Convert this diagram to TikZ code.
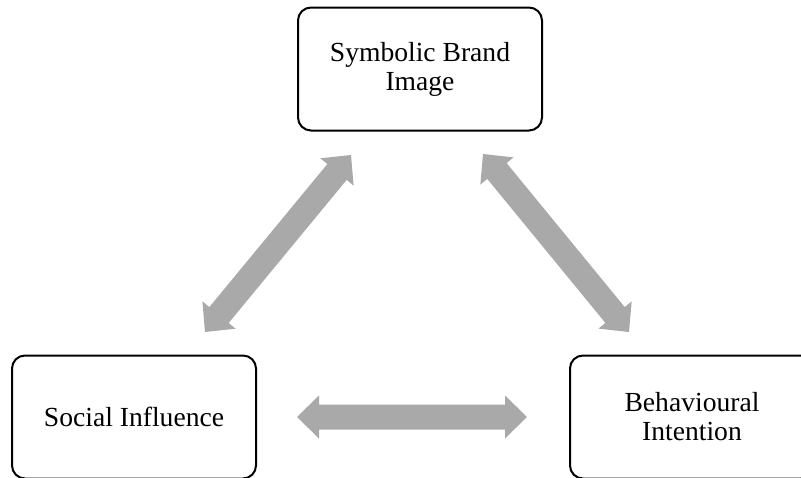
\documentclass[tikz,border=0pt]{standalone}
\usepackage{fontspec}
\setmainfont{Liberation Serif}
\usetikzlibrary{calc}

\definecolor{arrowgrey}{RGB}{169,169,169}

% Double-headed block arrow between two named coordinates
\newcommand\blockarrow[2]{%
  \fill[arrowgrey]
    (#1)
    -- ($(#1)!22pt!(#2)!21.5pt!90:(#2)$)
    -- ($(#1)!22pt!(#2)!12.5pt!90:(#2)$)
    -- ($(#2)!22pt!(#1)!12.5pt!-90:(#1)$)
    -- ($(#2)!22pt!(#1)!21.5pt!-90:(#1)$)
    -- (#2)
    -- ($(#2)!22pt!(#1)!21.5pt!90:(#1)$)
    -- ($(#2)!22pt!(#1)!12.5pt!90:(#1)$)
    -- ($(#1)!22pt!(#2)!12.5pt!-90:(#2)$)
    -- ($(#1)!22pt!(#2)!21.5pt!-90:(#2)$)
    -- cycle;}

\tikzset{
  concept/.style={draw=black, line width=2pt, rounded corners=13pt,
    minimum width=244pt, minimum height=123pt, align=center,
    font=\fontsize{27.6pt}{29pt}\selectfont, inner sep=0pt},
}

\begin{document}
\begin{tikzpicture}[x=1pt,y=-1pt]
  \useasboundingbox (0,0) rectangle (801,477);
  \clip (0,0) rectangle (801,477);

  % constructs
  \node[concept] (sbi) at (420,69)  {Symbolic Brand\\Image};
  \node[concept] (si)  at (134,417) {Social Influence};
  \node[concept] (bi)  at (692,417) {Behavioural\\Intention};

  % arrow end points in the gaps between the boxes
  \coordinate (siTop)  at (205,332);
  \coordinate (sbiL)   at (351,155);
  \coordinate (sbiR)   at (483,154);
  \coordinate (biTop)  at (629,332);
  \coordinate (siR)    at (297,417);
  \coordinate (biL)    at (527,417);

  \blockarrow{siTop}{sbiL}
  \blockarrow{sbiR}{biTop}
  \blockarrow{siR}{biL}
\end{tikzpicture}
\end{document}
